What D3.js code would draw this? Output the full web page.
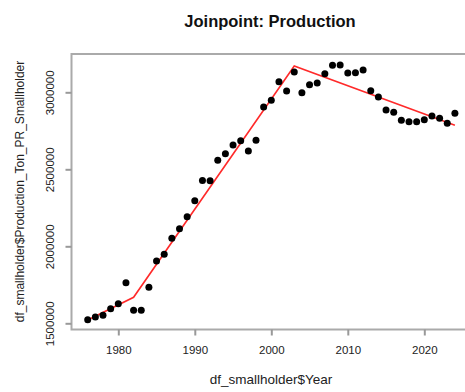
<!DOCTYPE html>
<html><head><meta charset="utf-8">
<script src="https://cdn.jsdelivr.net/npm/d3@7"></script>
<style>
body{margin:0;background:#fff;}
svg{display:block;font-family:"Liberation Sans",Arial,sans-serif;}
</style></head>
<body><svg id="chart" width="465" height="392"></svg>
<script>
const years = [1976,1977,1978,1979,1980,1981,1982,1983,1984,1985,1986,1987,1988,1989,1990,1991,1992,1993,1994,1995,1996,1997,1998,1999,2000,2001,2002,2003,2004,2005,2006,2007,2008,2009,2010,2011,2012,2013,2014,2015,2016,2017,2018,2019,2020,2021,2022,2023,2024];
const production = [1523000,1541000,1552000,1595000,1627000,1764000,1584000,1584000,1734000,1905000,1948000,2052000,2114000,2192000,2296000,2428000,2425000,2558000,2601000,2657000,2686000,2619000,2688000,2905000,2948000,3069000,3008000,3132000,2997000,3049000,3060000,3121000,3175000,3177000,3125000,3127000,3145000,3010000,2970000,2885000,2870000,2818000,2809000,2809000,2822000,2846000,2831000,2799000,2864000];
const joinYears = [1976,1982,2003,2024];
const joinFit = [1521000,1669000,3171000,2786000];
const xTicks = [1980,1990,2000,2010,2020];
const yTicks = [1500000,2000000,2500000,3000000];
const title = "Joinpoint: Production";
const xTitle = "df_smallholder$Year";
const yTitle = "df_smallholder$Production_Ton_PR_Smallholder";

const svg = d3.select("#chart");
const x = d3.scaleLinear().domain([1980,2020]).range([118.3,424.3]);
const y = d3.scaleLinear().domain([1500000,3000000]).range([323.3,92.3]);
const plotL = 71.5, plotT = 54, plotB = 329.5, plotR = 473;

// box
svg.append("rect").attr("x",plotL).attr("y",plotT).attr("width",plotR-plotL).attr("height",plotB-plotT)
  .attr("fill","none").attr("stroke","#aaa").attr("stroke-width",2);

// x axis
const gx = svg.append("g").attr("transform",`translate(0,${plotB})`)
  .call(d3.axisBottom(x).tickValues(xTicks).tickSize(6).tickPadding(10).tickFormat(d3.format("d")));
gx.select(".domain").remove();
gx.selectAll(".tick line").attr("stroke","#999").attr("stroke-width",2);
gx.selectAll(".tick text").attr("fill","#222").style("font-size","11.5px");

// y axis
const gy = svg.append("g").attr("transform",`translate(${plotL},0)`)
  .call(d3.axisLeft(y).tickValues(yTicks).tickSize(6).tickFormat(d3.format("d")));
gy.select(".domain").remove();
gy.selectAll(".tick line").attr("stroke","#999").attr("stroke-width",2);
gy.selectAll(".tick text").attr("fill","#222").style("font-size","11.5px")
  .attr("x",null).attr("dy",null)
  .attr("text-anchor","middle")
  .attr("transform","translate(-22,0) rotate(-90)")
  .attr("dy","0.35em");

// joinpoint line
svg.append("path").datum(joinYears.map((d,i)=>[d,joinFit[i]]))
  .attr("fill","none").attr("stroke","#ff2a2a").attr("stroke-width",1.6)
  .attr("d",d3.line().x(d=>x(d[0])).y(d=>y(d[1])));

// points
svg.append("g").selectAll("circle").data(years.map((d,i)=>[d,production[i]])).join("circle")
  .attr("cx",d=>x(d[0])).attr("cy",d=>y(d[1])).attr("r",3.5).attr("fill","#000");

// titles
svg.append("text").attr("x",270).attr("y",27).attr("text-anchor","middle")
  .style("font-size","16.5px").style("font-weight","bold").attr("fill","#111").text(title);
svg.append("text").attr("x",271).attr("y",384).attr("text-anchor","middle")
  .style("font-size","13.5px").attr("fill","#222").text(xTitle);
svg.append("text").attr("transform","translate(24,191.5) rotate(-90)").attr("text-anchor","middle")
  .style("font-size","12px").attr("fill","#222").text(yTitle);
</script></body></html>
